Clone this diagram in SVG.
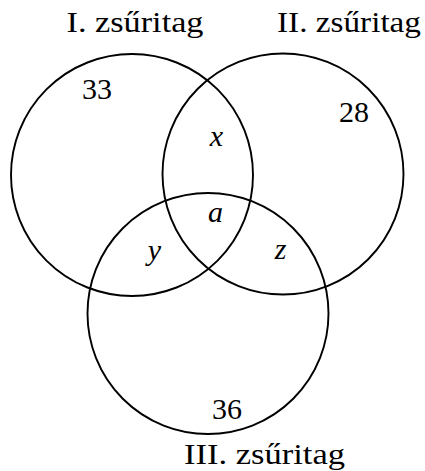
<svg xmlns="http://www.w3.org/2000/svg" width="425" height="471" viewBox="0 0 425 471">
<style>
.c{fill:none;stroke:#000;stroke-width:1.9}
text{font-family:'Liberation Serif',serif;fill:#000;text-anchor:middle}
.l{font-size:29px}
.n{font-size:30px}
.v{font-size:30px;font-style:italic}
</style>
<rect width="425" height="471" fill="#fff"/>
<g id="set1"><circle class="c" cx="132" cy="175" r="121"/><text class="l" x="135" y="32" textLength="137" lengthAdjust="spacingAndGlyphs">I. zsűritag</text><text class="n" x="97" y="99">33</text></g>
<g id="set2"><circle class="c" cx="283" cy="174" r="120.5"/><text class="l" x="349" y="32" textLength="144" lengthAdjust="spacingAndGlyphs">II. zsűritag</text><text class="n" x="354" y="122">28</text></g>
<g id="set3"><circle class="c" cx="208" cy="313.5" r="120.5"/><text class="l" x="264.5" y="464" textLength="161" lengthAdjust="spacingAndGlyphs">III. zsűritag</text><text class="n" x="227" y="419">36</text></g>
<g id="regions">
<text class="v" x="216.5" y="146">x</text>
<text class="v" x="215.5" y="222">a</text>
<text class="v" x="154.5" y="260">y</text>
<text class="v" x="280.5" y="259">z</text>
</g>
</svg>
